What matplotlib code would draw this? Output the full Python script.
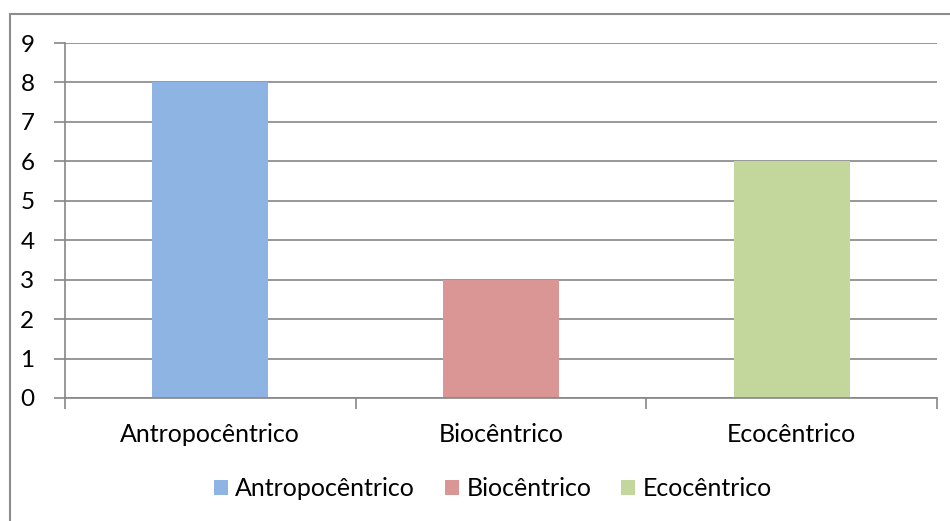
import matplotlib
matplotlib.use("Agg")
import matplotlib.pyplot as plt
from matplotlib.patches import Rectangle, Patch

categories = ["Antropocêntrico", "Biocêntrico", "Ecocêntrico"]
values = [8, 3, 6]
colors = ["#8EB4E3", "#D99694", "#C3D69B"]
y_ticks = list(range(0, 10))

plt.rcParams["font.family"] = ["Lato", "DejaVu Sans"]

W, H = 950, 521
fig = plt.figure(figsize=(W / 100, H / 100), dpi=100)

# outer chart frame (only left and top edges are inside the image)
fig.patches.append(Rectangle((10 / W, -0.1), 1.2, 1 - 14 / H + 0.1,
                             transform=fig.transFigure, fill=False,
                             edgecolor="#8C8C8C", linewidth=1.5))

ax = fig.add_axes([65 / W, 123 / H, (937 - 65) / W, (398 - 43) / H])

x = range(len(categories))
ax.bar(x, values, width=0.4, color=colors, zorder=2)

ax.set_xlim(-0.5, len(categories) - 0.5)
ax.set_ylim(0, 9)
ax.set_yticks(y_ticks)
ax.set_yticklabels([str(t) for t in y_ticks], fontsize=17.5)
ax.yaxis.grid(True, color="#868686", linewidth=1.2, zorder=0)

ax.set_xticks(x)
ax.set_xticklabels(categories, fontsize=18)
ax.tick_params(axis="x", length=0, pad=18)
ax.tick_params(axis="y", length=8, color="#868686", width=1.2, pad=14)
# boundary ticks between categories on the x axis
ax.set_xticks([i - 0.5 for i in range(len(categories) + 1)], minor=True)
ax.tick_params(axis="x", which="minor", length=8, color="#868686", width=1.2)

for side in ["top", "right"]:
    ax.spines[side].set_visible(False)
for side in ["left", "bottom"]:
    ax.spines[side].set_color("#868686")
    ax.spines[side].set_linewidth(1.2)

handles = [Patch(facecolor=c, edgecolor="none") for c in colors]
fig.legend(handles, categories, loc="center", bbox_to_anchor=(493 / W, 1 - 489 / H),
           ncol=3, frameon=False, fontsize=18, handlelength=0.55, handleheight=0.55,
           handletextpad=0.3, columnspacing=1.2)

fig.savefig("out.png", dpi=100)
